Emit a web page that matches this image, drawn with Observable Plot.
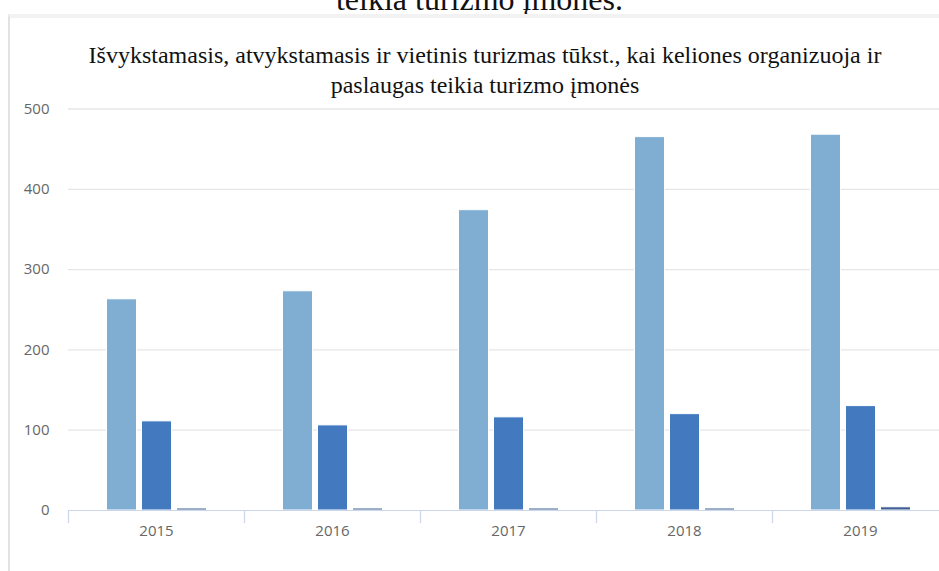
<!DOCTYPE html>
<html>
<head>
<meta charset="utf-8">
<script src="https://cdn.jsdelivr.net/npm/d3@7"></script>
<script src="https://cdn.jsdelivr.net/npm/@observablehq/plot@0.6"></script>
<style>
  html, body { margin: 0; padding: 0; background: #fff; }
  body { width: 939px; height: 571px; overflow: hidden; position: relative; }
  #cut { position: absolute; left: 10px; top: -16px; width: 939px; text-align: center;
         font-family: "Liberation Serif", "Times New Roman", serif; font-size: 32px; line-height: 30px; color: #111; }
  #frame { position: absolute; left: 8px; top: 14px; width: 960px; height: 600px;
           border-top: 4px solid #f2f2f2; border-left: 2px solid #e2e2e2; }
  #title { position: absolute; left: 10px; top: 40px; width: 950px; text-align: center;
           font-family: "Liberation Serif", "Times New Roman", serif; font-size: 24px; line-height: 30px; color: #111; }
  #chart { position: absolute; left: 0; top: 0; width: 960px; height: 571px; }
  #chart svg { max-width: none !important; }
</style>
</head>
<body>
<div id="cut">teikia turizmo įmonės.</div>
<div id="frame"></div>
<div id="title">Išvykstamasis, atvykstamasis ir vietinis turizmas tūkst., kai keliones organizuoja ir<br>paslaugas teikia turizmo įmonės</div>
<div id="chart"></div>
<script>
const years = ["2015", "2016", "2017", "2018", "2019"];
const seriesNames = ["Išvykstamasis", "Atvykstamasis", "Vietinis"];
const outbound = [263, 273, 374, 465, 468];
const inbound = [111, 106, 116, 120, 130];
const domestic = [2.5, 2.5, 2.5, 2.5, 4];
const yTicks = [0, 100, 200, 300, 400, 500];
const colors = ["#80aed2", "#437abf", "#3d5f92"];

const valuesBySeries = [outbound, inbound, domestic];
const data = [];
seriesNames.forEach((s, si) => years.forEach((y, yi) => data.push({series: s, si, year: y, value: valuesBySeries[si][yi]})));

const barW = 30;
const step = 35;
const band = 176;
const inset = (band - barW) / 2;

const marks = [
  Plot.gridY(yTicks.filter(t => t > 0), {stroke: "#e6e6e6", strokeOpacity: 1, strokeWidth: 1.3}),
  ...seriesNames.map((s, si) => Plot.barY(data.filter(d => d.si === si), {
    x: "year", y: "value", fill: colors[si], stroke: "#fff", strokeWidth: 1,
    insetLeft: inset, insetRight: inset, dx: (si - 1) * step + 0.5
  })),
  Plot.ruleY([0], {stroke: "#ccd6eb", strokeWidth: 1.2}),
  Plot.axisX({tickSize: 13, tickFormat: () => "", dx: -band / 2, stroke: "#ccd6eb", strokeWidth: 1.2}),
  Plot.axisX({tickSize: 0, tickPadding: 15, fill: "#666", fontSize: 15}),
  Plot.axisY({ticks: yTicks, tickSize: 0, tickPadding: 19, fill: "#666", fontSize: 15})
];

const chart = Plot.plot({
  width: 960,
  height: 571,
  marginLeft: 68,
  marginRight: 12,
  marginTop: 108.5,
  marginBottom: 61,
  style: {fontFamily: "'Open Sans', sans-serif", fontSize: "15px", color: "#666", background: "transparent", maxWidth: "none"},
  x: {domain: years, padding: 0, label: null},
  y: {domain: [0, 500], label: null},
  marks
});
document.getElementById("chart").appendChild(chart);
</script>
</body>
</html>
